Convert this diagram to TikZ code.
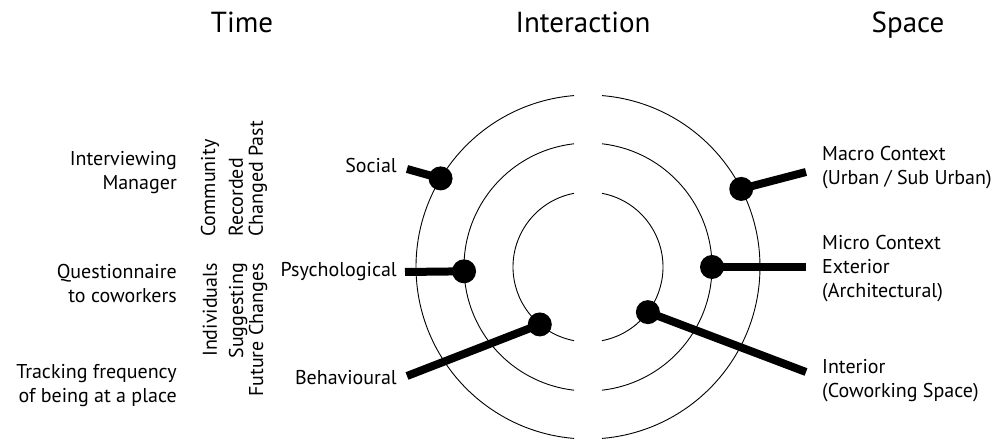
\documentclass[tikz,border=0pt]{standalone}
\usepackage{fontspec}
\setmainfont{PT Sans}
\usetikzlibrary{calc}

\begin{document}
\begin{tikzpicture}[x=1pt,y=1pt]
  \tikzstyle{title} = [font=\fontsize{29}{34}\selectfont,inner sep=0pt,anchor=base]
  \tikzstyle{lbl} = [font=\fontsize{20}{24}\selectfont,inner sep=0pt]
  \tikzstyle{vlbl} = [font=\fontsize{20}{20}\selectfont,inner sep=0pt,rotate=90]
  \tikzstyle{dot} = [circle,fill=black,minimum size=24pt,inner sep=0pt]
  \tikzstyle{bar} = [line width=8pt]
  \tikzstyle{ring} = [line width=0.9pt]

  \useasboundingbox (0,0) rectangle (997,441);
  \coordinate (c) at (588,174);

  \node[title,name=time] at (242,408) {Time};
  \node[title,name=inter] at (583,408) {Interaction};
  \node[title,name=space] at (908,408) {Space};

  % base = last line
  \node[lbl,name=interview,align=right,anchor=base east] at (177,251)
  {Interviewing\\Manager};
  \node[lbl,name=quest,align=right,anchor=base east] at (177,138)
  {Questionnaire\\to coworkers};
  \node[lbl,name=track,align=right,anchor=base east] at (177,38)
  {Tracking frequency\\of being at a place};

  \node[vlbl,name=comm,anchor=west] at (210,204) {Community};
  \node[vlbl,name=recpast,align=left,anchor=west] at (248,204)
  {Recorded\\Changed Past};
  \node[vlbl,name=indiv,anchor=east] at (210,178) {Individuals};
  \node[vlbl,name=suggfut,align=right,anchor=east] at (248,178)
  {Suggesting\\Future Changes};

  \node[lbl,name=social,anchor=base east] at (397,268) {Social};
  \node[lbl,name=psych,anchor=base east] at (397,164) {Psychological};
  \node[lbl,name=behav,anchor=base east] at (397,56) {Behavioural};

  \node[lbl,name=macro,align=left,anchor=base west] at (822,256)
  {Macro Context\\(Urban / Sub Urban)};
  \node[lbl,name=micro,align=left,anchor=base west] at (822,143)
  {Micro Context\\Exterior\\(Architectural)};
  \node[lbl,name=interior,align=left,anchor=base west] at (822,43)
  {Interior\\(Coworking Space)};

  \foreach \r in {172,124,75} {
    \pgfmathsetmacro{\g}{asin(14/\r)}
    \draw[ring] ($(c)+(90-\g:\r pt)$) arc[start angle=90-\g,end angle=-90+\g,radius=\r pt];
    \draw[ring] ($(c)+(90+\g:\r pt)$) arc[start angle=90+\g,end angle=270-\g,radius=\r pt];
  }

  \node[dot,name=dsoc] at ($(c)+(149:172pt)$) {};
  \node[dot,name=dpsy] at ($(c)+(182:124pt)$) {};
  \node[dot,name=dbeh] at ($(c)+(230:75pt)$) {};
  \node[dot,name=dmac] at ($(c)+(27:172pt)$) {};
  \node[dot,name=dmic] at ($(c)+(0:124pt)$) {};
  \node[dot,name=dint] at ($(c)+(-37:75pt)$) {};

  \coordinate (esoc) at (407,272);
  \coordinate (epsy) at (405,169);
  \coordinate (ebeh) at (407,65);
  \coordinate (emac) at (806,269);
  \coordinate (emic) at (806,174);
  \coordinate (eint) at (806,69);

  \path (esoc) edge[bar] (dsoc.center);
  \path (epsy) edge[bar] (dpsy.center);
  \path (ebeh) edge[bar] (dbeh.center);
  \path (emac) edge[bar] (dmac.center);
  \path (emic) edge[bar] (dmic.center);
  \path (eint) edge[bar] (dint.center);

\end{tikzpicture}
\end{document}
